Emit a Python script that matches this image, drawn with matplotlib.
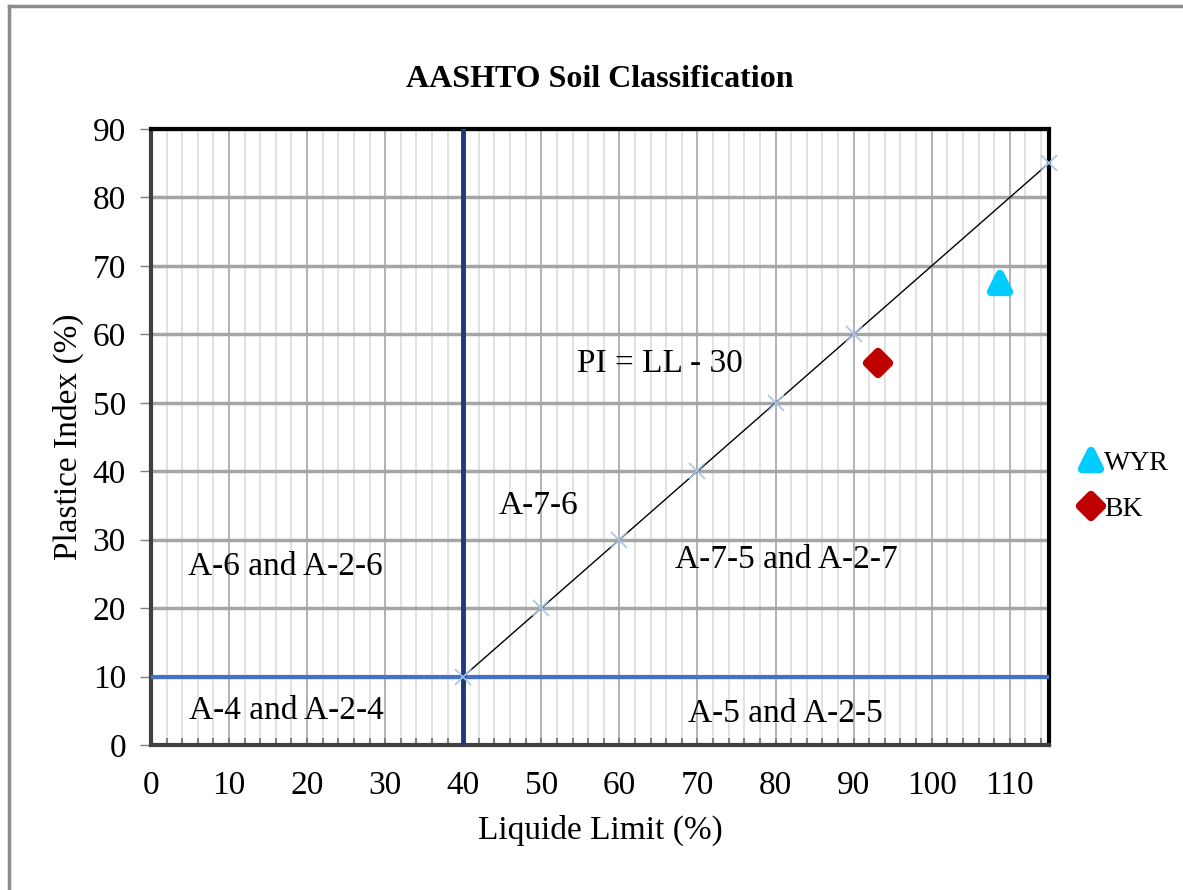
import matplotlib
matplotlib.use("Agg")
import matplotlib.pyplot as plt
from matplotlib.lines import Line2D
from matplotlib.markers import MarkerStyle
from matplotlib.ticker import MultipleLocator

plt.rcParams['font.family'] = ['Liberation Serif', 'DejaVu Serif']

# PI = LL - 30 line, with markers at its data points
ll_line = [40, 50, 60, 70, 80, 90, 115]
pi_line = [10, 20, 30, 40, 50, 60, 85]

# measured samples
samples = ['WYR', 'BK']
sample_ll = [108.8, 93.1]
sample_pi = [67.5, 55.8]
sample_marker = ['^', 'D']
sample_color = ['#00CCFF', '#C00000']

# zone labels: text, LL, PI
zones = [
    ('A-6 and A-2-6', 17.2, 26),
    ('A-4 and A-2-4', 17.3, 5),
    ('A-7-6', 49.7, 35),
    ('PI = LL - 30', 65.2, 55.7),
    ('A-7-5 and A-2-7', 81.4, 27),
    ('A-5 and A-2-5', 81.2, 4.5),
]


def make_chart():
    fig = plt.figure(figsize=(11.83, 8.90), dpi=100)
    ax = fig.add_axes([0.1276, 0.1629, 0.759, 0.6922])

    ax.set_xlim(0, 115)
    ax.set_ylim(0, 90)
    ax.xaxis.set_major_locator(MultipleLocator(10))
    ax.xaxis.set_minor_locator(MultipleLocator(2))
    ax.yaxis.set_major_locator(MultipleLocator(10))

    # grid
    ax.grid(which='minor', axis='x', color='#DDDDDD', lw=1.2)
    ax.grid(which='major', axis='x', color='#A6A6A6', lw=1.2)
    ax.grid(which='major', axis='y', color='#A6A6A6', lw=2.5)
    ax.set_axisbelow(True)

    # boundary lines
    ax.plot([0, 115], [10, 10], color='#4472C4', lw=3, zorder=3)
    ax.plot([40, 40], [0, 90], color='#1F3A7A', lw=3.5, zorder=3)
    ax.plot(ll_line, pi_line, color='black', lw=1, marker='x', ms=12,
            mec='#A9C4EB', mew=1.2, zorder=4, clip_on=False)

    for name, x, y, m, c in zip(samples, sample_ll, sample_pi,
                                sample_marker, sample_color):
        ax.plot(x, y, ls='none', marker=MarkerStyle(m, joinstyle='round'),
                ms=13 if m == '^' else 11, color=c, mec=c, mew=6, mfc=c,
                label=name, zorder=5)

    for text, x, y in zones:
        ax.text(x, y, text, fontsize=24, ha='center', va='center', zorder=6)

    for side in ['top', 'right']:
        ax.spines[side].set_linewidth(3)
        ax.spines[side].set_color('black')
    for side in ['left', 'bottom']:
        ax.spines[side].set_linewidth(3)
        ax.spines[side].set_color('#404040')

    ax.tick_params(axis='y', which='major', direction='out', length=8,
                   width=1, color='#808080', labelsize=24, pad=10)
    ax.tick_params(axis='x', which='both', direction='in', length=5,
                   width=1.5, color='#808080', labelsize=24, pad=18)

    ax.set_title('AASHTO Soil Classification', fontsize=23,
                 fontweight='bold', pad=30)
    ax.set_xlabel('Liquide Limit (%)', fontsize=24, labelpad=10)
    ax.set_ylabel('Plastice Index (%)', fontsize=24, labelpad=6)

    ax.legend(loc='center left', bbox_to_anchor=(1.015, 0.42), frameon=False,
              fontsize=20, handlelength=0.7, handletextpad=0.1,
              labelspacing=0.75, borderaxespad=0.3)

    # outer frame
    fig.add_artist(Line2D([0.0080, 0.0080], [0, 0.993], color='#8C8C8C',
                          lw=2.5, transform=fig.transFigure))
    fig.add_artist(Line2D([0.0080, 1.0], [0.993, 0.993], color='#8C8C8C',
                          lw=2.5, transform=fig.transFigure))

    fig.savefig('out.png', dpi=100)


def main():
    make_chart()


if __name__ == '__main__':
    main()
